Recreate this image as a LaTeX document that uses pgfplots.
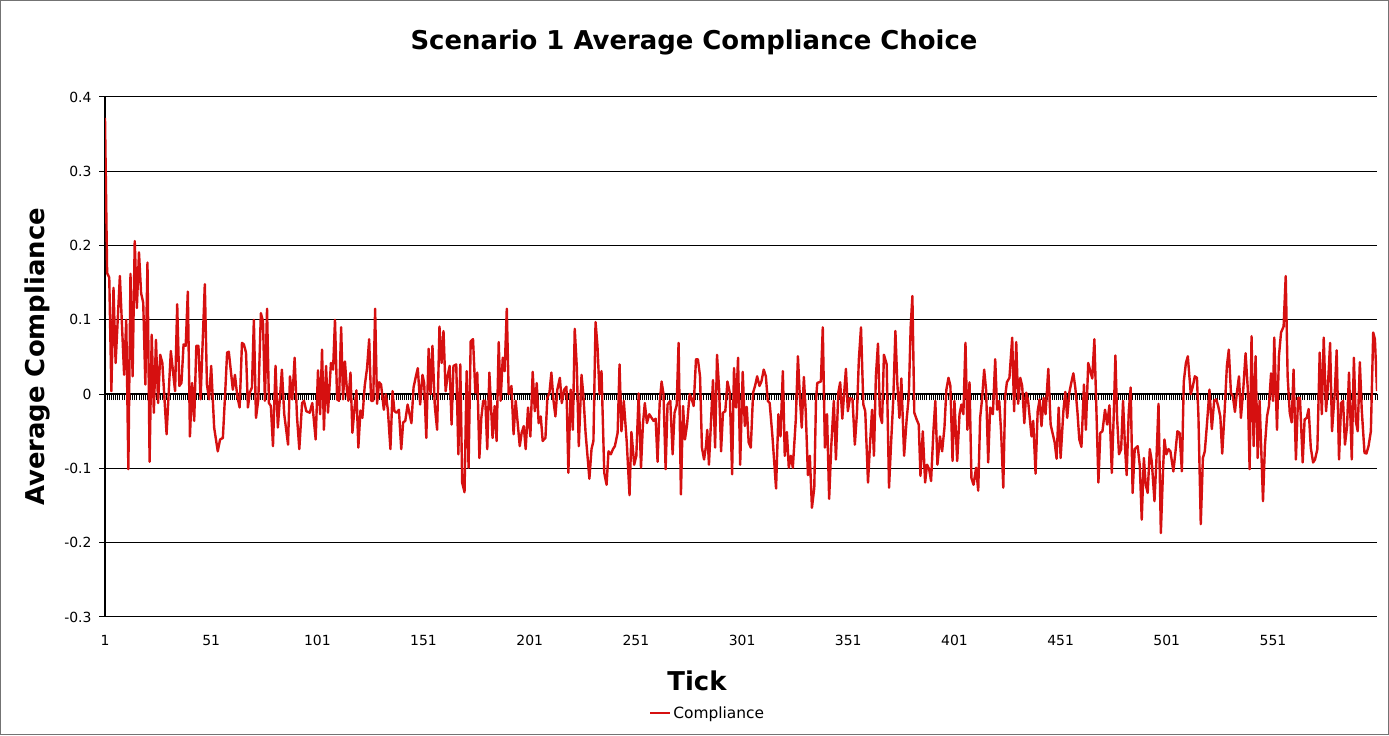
\documentclass[border=0pt]{standalone}
\usepackage{pgfplots}
\pgfplotsset{compat=1.18}
\usepackage{fontspec}
\setmainfont{DejaVu Sans}
\definecolor{linered}{RGB}{214,16,16}
\begin{document}
\begin{tikzpicture}[x=1bp,y=1bp]
\draw[draw=black!55, line width=1bp] (0.5,0.5) rectangle (1388.5,734.5);
% zero axis with a tick for every category
\begin{axis}[at={(105bp,118bp)}, anchor=south west, scale only axis,
  width=1272bp, height=520bp,
  xmin=1, xmax=600, ymin=-0.3, ymax=0.4,
  axis x line=middle, axis y line=none,
  x axis line style={-, line width=1.6bp, black},
  xtick={1,2,...,600}, xticklabel=\empty,
  xtick style={line width=0.8bp, black},
  major tick length=6bp, tick align=outside]
\end{axis}
\begin{axis}[at={(105bp,118bp)}, anchor=south west, scale only axis,
  width=1272bp, height=520bp,
  xmin=1, xmax=600, ymin=-0.3, ymax=0.4,
  axis x line*=bottom, axis y line*=left,
  x axis line style={draw=none},
  y axis line style={-, line width=1.2bp, black},
  xtick={1,51,101,151,201,251,301,351,401,451,501,551},
  xticklabels={1,51,101,151,201,251,301,351,401,451,501,551},
  ytick={-0.3,-0.2,-0.1,0,0.1,0.2,0.3,0.4},
  yticklabels={-0.3,-0.2,-0.1,0,0.1,0.2,0.3,0.4},
  /pgf/number format/assume math mode=true,
  ticklabel style={font=\fontsize{14}{16}\selectfont, text=black},
  xtick style={draw=none},
  ytick style={line width=1bp, black},
  ytick align=outside, major tick length=6bp,
  xticklabel style={yshift=-15bp},
  yticklabel style={xshift=-4bp},
  ymajorgrids, grid style={black, line width=1bp},
  legend style={at={(0.4737,-0.1846)}, anchor=center, draw=none, fill=none,
    font=\fontsize{15.5}{18}\selectfont},
  legend image code/.code={\draw[#1] (0bp,0bp) -- (20bp,0bp);},
]
\addplot[linered, line width=2.4bp, line join=round] coordinates {
(1,0.372)(2,0.163)(3,0.157)(4,0.004)(5,0.143)(6,0.042)(8,0.159)(10,0.026)(11,0.100)(12,-0.101)(13,0.162)(14,0.024)(15,0.206)(16,0.116)(17,0.191)(18,0.136)(19,0.123)(20,0.013)(21,0.177)(22,-0.091)(23,0.080)(24,-0.025)(25,0.073)(26,-0.012)(27,0.053)(28,0.042)(30,-0.054)(32,0.058)(34,0.004)(35,0.121)(36,0.011)(37,0.015)(38,0.067)(39,0.065)(40,0.138)(41,-0.057)(42,0.015)(43,-0.036)(44,0.065)(45,0.065)(46,-0.007)(48,0.148)(49,0.013)(50,-0.007)(51,0.038)
(52.4,-0.045)(54.1,-0.077)(55.2,-0.061)(56.5,-0.059)(57.6,0.002)(58.5,0.056)(59.3,0.057)(61.2,0.006)(62.2,0.026)(63.3,-0.003)(64.4,-0.018)(65.5,0.069)(66.4,0.067)(67.4,0.056)(68.3,-0.018)(69.2,0.002)(70.2,0.009)(71.1,0.100)(72.1,-0.032)(73.2,-0.007)(74.4,0.109)(75.4,0.098)(76.3,-0.009)(77.3,0.115)(78.2,-0.012)(79.1,-0.016)(80.1,-0.070)(81.3,0.038)(82.4,-0.045)(84.3,0.033)(85.4,-0.027)(87.2,-0.068)(88.1,0.024)(89.2,-0.007)(90.3,0.049)(91.4,-0.030)(92.5,-0.074)(93.8,-0.012)(94.7,-0.009)(95.8,-0.023)(97.4,-0.025)(98.6,-0.012)(100.2,-0.061)
(101.3,0.032)(102.3,-0.027)(103.2,0.060)(104.1,-0.048)(105.1,0.038)(106.0,-0.025)(107.4,0.042)(108.4,0.033)(109.3,0.100)(110.3,-0.007)(111.2,-0.009)(112.2,0.090)(113.1,-0.007)(114.0,0.044)(115.0,0.002)(115.6,-0.009)(116.6,0.029)(117.5,-0.052)(118.6,-0.016)(119.4,0.005)(120.3,-0.072)(121.3,-0.022)(122.2,-0.032)(123.3,0.011)(124.4,0.035)(125.4,0.074)(126.3,-0.009)(127.3,-0.009)(128.2,0.115)(129.1,-0.013)(130.1,0.016)(131.0,0.013)(132.3,-0.021)(133.2,0.000)(134.2,-0.021)(135.4,-0.074)(136.4,0.004)(137.3,-0.023)(138.3,-0.025)(139.4,-0.021)(140.5,-0.074)(141.4,-0.038)(142.4,-0.036)(143.5,-0.014)(145.3,-0.039)(146.3,0.009)(147.4,0.024)(148.3,0.035)(149.4,-0.014)(150.5,0.026)
(151.3,0.015)(152.3,-0.059)(153.4,0.061)(154.3,0.000)(155.2,0.065)(156.3,-0.016)(157.4,-0.048)(158.5,0.091)(159.5,0.042)(160.4,0.085)(161.4,0.004)(162.3,0.024)(163.3,0.038)(164.2,-0.041)(165.1,0.038)(166.4,0.040)(167.4,-0.081)(168.3,0.040)(169.2,-0.119)(170.3,-0.132)(171.3,0.031)(172.2,-0.099)(173.2,0.071)(174.3,0.074)(175.4,0.002)(176.3,0.029)(177.3,-0.086)(178.2,-0.032)(179.1,-0.009)(180.1,-0.009)(181.0,-0.074)(182.0,0.029)(183.5,-0.059)(184.5,-0.016)(185.4,-0.063)(186.4,0.070)(187.3,-0.009)(188.3,0.049)(189.2,0.031)(190.2,0.115)(191.1,0.000)(192.4,0.011)(193.4,-0.054)(194.4,-0.009)(196.3,-0.070)(197.2,-0.052)(198.2,-0.043)(199.1,-0.074)(200.2,-0.018)
(201.3,-0.057)(202.4,0.030)(203.4,-0.023)(204.3,0.015)(205.2,-0.039)(206.2,-0.030)(207.1,-0.063)(208.4,-0.059)(209.3,-0.005)(210.3,0.002)(211.2,0.029)(212.2,-0.009)(213.1,-0.030)(214.0,0.006)(215.2,0.022)(216.1,-0.012)(217.2,0.006)(218.3,0.010)(219.2,-0.106)(220.3,0.006)(221.3,-0.048)(222.2,0.088)(223.2,0.035)(224.1,-0.070)(225.4,0.026)(226.3,-0.003)(227.3,-0.052)(229.1,-0.114)(230.1,-0.074)(231.0,-0.063)(232.0,0.097)(232.9,0.065)(233.9,0.000)(234.8,0.031)(236.1,-0.106)(237.2,-0.122)(238.1,-0.077)(239.2,-0.081)(240.2,-0.074)(241.1,-0.070)(242.4,-0.052)(243.3,0.040)(244.2,-0.050)(245.3,-0.009)(246.7,-0.065)(248.0,-0.136)(248.9,-0.051)(250.2,-0.095)
(251.2,-0.083)(252.3,0.001)(253.4,-0.099)(254.3,-0.041)(255.2,-0.012)(256.2,-0.039)(257.3,-0.027)(258.4,-0.032)(259.3,-0.036)(260.3,-0.033)(261.2,-0.091)(262.2,-0.012)(263.1,0.017)(264.0,0.000)(265.0,-0.101)(265.9,-0.014)(267.2,-0.009)(268.3,-0.081)(269.2,-0.025)(270.2,-0.015)(271.1,0.069)(272.2,-0.135)(273.2,-0.016)(274.1,-0.061)(275.1,-0.041)(276.3,0.000)(277.3,-0.007)(278.2,-0.016)(279.3,0.047)(280.2,0.047)(281.2,0.024)(282.1,-0.072)(283.1,-0.088)(284.0,-0.070)(284.6,-0.048)(285.4,-0.095)(287.3,0.019)(288.3,-0.072)(289.2,0.053)(290.2,0.006)(291.1,-0.077)(292.0,-0.025)(293.1,-0.023)(294.1,0.017)(295.2,0.002)(296.3,-0.108)(297.2,0.035)(298.2,-0.018)(299.1,0.049)(300.1,-0.095)
(301.3,0.030)(302.3,-0.043)(303.2,-0.017)(304.1,-0.065)(305.1,-0.072)(306.2,0.002)(307.1,0.011)(308.1,0.024)(309.2,0.011)(310.1,0.017)(311.2,0.033)(312.2,0.024)(313.1,-0.009)(314.0,-0.012)(315.3,-0.057)(317.0,-0.127)(318.1,-0.027)(319.1,-0.057)(320.2,0.031)(321.1,-0.083)(322.1,-0.051)(323.0,-0.099)(324.0,-0.083)(324.9,-0.099)(326.3,-0.034)(327.3,0.051)(328.2,-0.003)(329.1,-0.045)(330.1,0.023)(331.0,-0.025)(332.0,-0.109)(332.9,-0.083)(333.9,-0.153)(335.0,-0.126)(335.8,-0.009)(336.4,0.015)(338.1,0.017)(339.0,0.090)(340.0,-0.072)(341.0,-0.027)(342.0,-0.141)(343.0,-0.070)(344.2,-0.009)(345.2,-0.088)(346.3,0.002)(347.2,0.016)(348.2,-0.033)(349.9,0.034)(350.8,-0.023)
(351.8,-0.005)(353.0,-0.007)(354.1,-0.068)(355.1,-0.025)(356.0,0.047)(357.0,0.090)(358.1,-0.014)(359.0,-0.023)(360.3,-0.119)(361.2,-0.070)(362.2,-0.021)(363.1,-0.083)(364.0,0.024)(365.0,0.068)(365.9,-0.027)(366.9,-0.039)(367.8,0.053)(369.1,0.040)(370.2,-0.126)(371.1,-0.070)(372.2,-0.007)(373.2,0.085)(374.1,0.015)(375.1,-0.032)(376.0,0.021)(377.3,-0.083)(378.5,-0.034)(379.5,-0.003)(380.4,0.091)(381.2,0.132)(382.1,-0.025)(383.2,-0.034)(384.2,-0.041)(385.0,-0.110)(386.1,-0.050)(387.2,-0.119)(388.1,-0.095)(389.1,-0.101)(390.0,-0.117)(391.1,-0.050)(392.0,-0.009)(393.0,-0.095)(394.2,-0.057)(395.2,-0.077)(396.3,-0.045)(397.2,0.006)(398.2,0.022)(399.1,0.011)(400.1,-0.090)(401.0,-0.009)
(402.3,-0.090)(403.4,-0.027)(404.3,-0.014)(405.2,-0.027)(406.2,0.069)(407.1,-0.048)(408.1,0.016)(409.0,-0.113)(410.0,-0.122)(411.2,-0.099)(412.2,-0.130)(413.1,-0.032)(414.0,-0.007)(415.0,0.033)(415.9,0.006)(416.9,-0.092)(417.8,-0.018)(419.1,-0.027)(420.2,0.047)(421.1,-0.021)(422.1,-0.009)(423.0,-0.052)(424.0,-0.126)(424.9,-0.003)(425.7,0.016)(426.9,0.022)(428.2,0.076)(429.1,-0.023)(430.1,0.070)(431.0,-0.013)(432.0,0.022)(432.9,0.011)(433.9,-0.039)(434.8,0.002)(435.7,-0.009)(437.3,-0.057)(438.1,-0.036)(439.2,-0.107)(440.2,-0.023)(441.1,-0.007)(442.0,-0.043)(443.0,-0.005)(443.9,-0.027)(445.2,0.034)(446.3,-0.041)(448.2,-0.065)(449.1,-0.087)(450.1,-0.018)(451.0,-0.086)
(452.3,-0.023)(453.2,0.003)(454.1,-0.032)(455.1,0.002)(456.0,0.015)(457.0,0.028)(457.9,0.009)(458.9,-0.023)(459.8,-0.061)(460.8,-0.071)(462.0,0.013)(462.9,-0.048)(464.0,0.042)(465.0,0.031)(465.9,0.021)(466.9,0.074)(467.8,-0.016)(468.8,-0.119)(469.7,-0.052)(470.7,-0.050)(471.9,-0.021)(472.9,-0.041)(474.0,-0.015)(475.1,-0.106)(476.0,-0.030)(476.8,0.052)(477.6,-0.032)(478.5,-0.081)(479.5,-0.074)(480.4,-0.009)(481.3,-0.070)(482.1,-0.109)(483.1,-0.023)(484.0,0.009)(484.9,-0.133)(485.9,-0.074)(487.3,-0.070)(488.3,-0.097)(489.2,-0.169)(490.2,-0.086)(491.1,-0.122)(492.0,-0.133)(493.0,-0.074)(493.9,-0.090)(495.2,-0.144)(496.1,-0.090)(497.1,-0.013)(498.2,-0.187)(499.3,-0.097)
(499.9,-0.061)(500.8,-0.081)(501.8,-0.074)(502.7,-0.077)(504.1,-0.104)(505.1,-0.077)(506.0,-0.050)(507.0,-0.052)(508.1,-0.104)(509.0,0.017)(510.0,0.042)(510.9,0.051)(512.3,0.000)(513.3,0.011)(514.2,0.024)(515.2,0.022)(515.9,-0.030)(517.0,-0.175)(518.0,-0.086)(518.9,-0.077)(519.9,-0.041)(521.1,0.006)(522.2,-0.047)(523.3,-0.009)(524.3,-0.007)(525.2,-0.016)(526.2,-0.030)(527.1,-0.080)(528.2,-0.025)(529.3,0.038)(530.2,0.060)(531.2,0.002)(532.1,-0.003)(533.1,-0.024)(534.0,0.002)(535.0,0.024)(535.9,-0.032)(537.0,0.006)(538.1,0.055)(539.1,0.009)(540.0,-0.101)(540.9,0.078)(541.9,-0.070)(542.8,0.051)(543.8,-0.086)(544.7,-0.009)(546.3,-0.144)(547.2,-0.070)(548.2,-0.030)(549.1,-0.016)(550.1,0.028)(551.0,-0.009)(551.6,0.076)
(552.9,-0.048)(553.8,0.051)(554.8,0.083)(556.0,0.091)(557.0,0.159)(557.9,0.024)(558.9,-0.025)(559.8,-0.038)(560.7,0.033)(561.8,-0.088)(562.8,-0.005)(563.7,-0.005)(565.0,-0.092)(565.9,-0.034)(566.9,-0.032)(567.8,-0.020)(568.8,-0.072)(569.9,-0.092)(570.8,-0.088)(571.9,-0.074)(573.0,0.056)(574.0,-0.027)(574.9,0.076)(576.0,-0.023)(576.9,0.013)(577.9,0.069)(578.8,-0.050)(580.1,0.002)(581.0,0.059)(582.1,-0.088)(583.1,-0.012)(584.0,-0.009)(584.9,-0.068)(585.9,-0.043)(586.8,0.029)(588.1,-0.088)(589.1,0.049)(590.0,-0.036)(590.9,-0.050)(591.9,0.043)(592.8,-0.021)(594.1,-0.079)(595.0,-0.080)(596.0,-0.070)(597.1,-0.050)(598.2,0.083)(599.0,0.074)(600,0.004)
};
\addlegendentry{Compliance}
\end{axis}
\node[font=\bfseries\fontsize{26}{30}\selectfont] at (694,693) {Scenario 1 Average Compliance Choice};
\node[font=\bfseries\fontsize{26}{30}\selectfont] at (697,54) {Tick};
\node[font=\bfseries\fontsize{26}{30}\selectfont, rotate=90] at (37,378) {Average Compliance};
\end{tikzpicture}
\end{document}
